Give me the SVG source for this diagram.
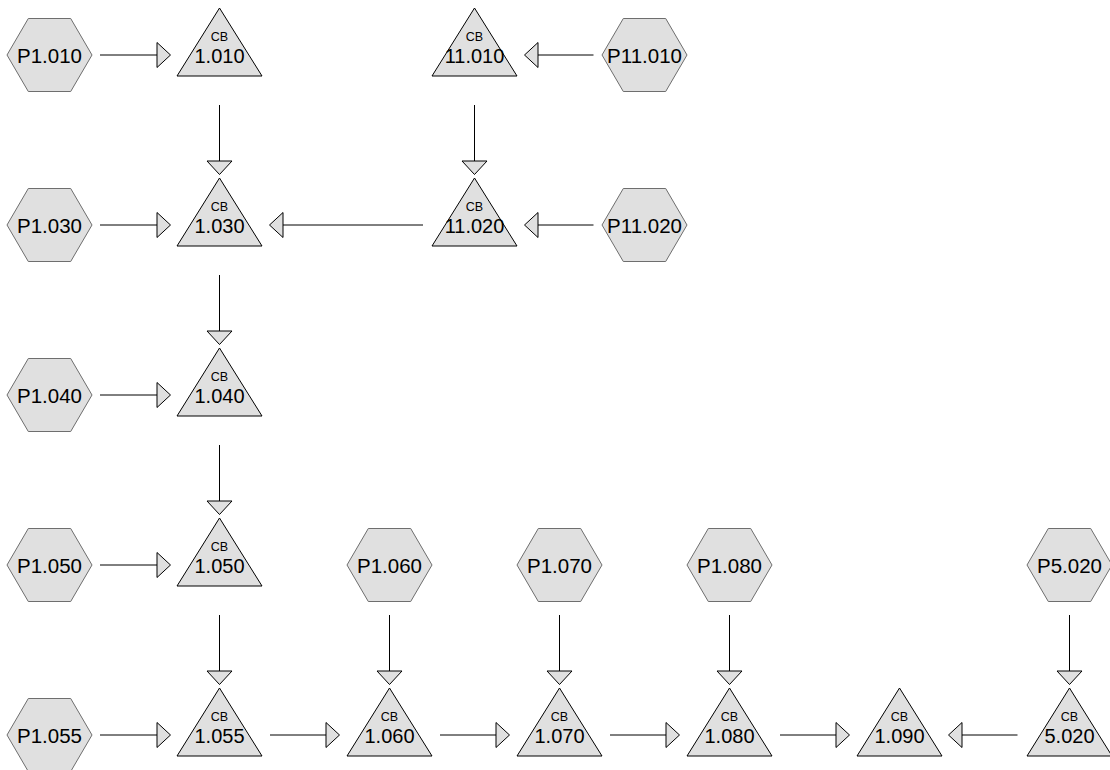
<svg xmlns="http://www.w3.org/2000/svg" width="1110" height="770" viewBox="0 0 1110 770">
<style>
.bg{fill:#ffffff}
.hex{fill:#e0e0e0;stroke:#6e6e6e;stroke-width:1}
.tri{fill:#e0e0e0;stroke:#000000;stroke-width:1}
.ht{font-family:"Liberation Sans",Arial,sans-serif;font-size:20.5px;fill:#000;text-anchor:middle}
.cb{font-family:"Liberation Sans",Arial,sans-serif;font-size:12.5px;fill:#000;text-anchor:middle}
.tn{font-family:"Liberation Sans",Arial,sans-serif;font-size:20px;fill:#000;text-anchor:middle}
.edge{stroke:#000;stroke-width:1;fill:none;marker-end:url(#ah)}
</style>
<defs>
<marker id="ah" markerUnits="userSpaceOnUse" viewBox="0 0 16 28" markerWidth="16" markerHeight="28" refX="1" refY="14" orient="auto">
<path d="M1,1.5 L14.5,14 L1,26.5 Z" fill="#e0e0e0" stroke="#000" stroke-width="1"/>
</marker>
<polygon id="hexShape" points="-42.5,0 -21.2,-36.5 21.2,-36.5 42.5,0 21.2,36.5 -21.2,36.5"/>
<polygon id="triShape" points="0,-47 42.5,21 -42.5,21"/>
</defs>
<rect class="bg" x="0" y="0" width="1110" height="770"/>

<g id="connectors">
<line class="edge" x1="100" y1="55" x2="157" y2="55"/>
<line class="edge" x1="100" y1="225" x2="157" y2="225"/>
<line class="edge" x1="100" y1="395" x2="157" y2="395"/>
<line class="edge" x1="100" y1="565" x2="157" y2="565"/>
<line class="edge" x1="100" y1="735" x2="157" y2="735"/>
<line class="edge" x1="593.5" y1="55" x2="538" y2="55"/>
<line class="edge" x1="593.5" y1="225" x2="538" y2="225"/>
<line class="edge" x1="423" y1="225" x2="283" y2="225"/>
<line class="edge" x1="219.5" y1="105" x2="219.5" y2="161"/>
<line class="edge" x1="474.5" y1="105" x2="474.5" y2="161"/>
<line class="edge" x1="219.5" y1="275" x2="219.5" y2="331"/>
<line class="edge" x1="219.5" y1="445" x2="219.5" y2="501"/>
<line class="edge" x1="219.5" y1="615" x2="219.5" y2="671"/>
<line class="edge" x1="389.5" y1="615" x2="389.5" y2="671"/>
<line class="edge" x1="559.5" y1="615" x2="559.5" y2="671"/>
<line class="edge" x1="729.5" y1="615" x2="729.5" y2="671"/>
<line class="edge" x1="1069.5" y1="615" x2="1069.5" y2="671"/>
<line class="edge" x1="270" y1="735" x2="326" y2="735"/>
<line class="edge" x1="440" y1="735" x2="496" y2="735"/>
<line class="edge" x1="610" y1="735" x2="666" y2="735"/>
<line class="edge" x1="780" y1="735" x2="836" y2="735"/>
<line class="edge" x1="1017.5" y1="735" x2="962" y2="735"/>
</g>

<g id="P1.010" transform="translate(49.5,55)"><use href="#hexShape" class="hex"/><text class="ht" y="7.5">P1.010</text></g>
<g id="P1.030" transform="translate(49.5,225)"><use href="#hexShape" class="hex"/><text class="ht" y="7.5">P1.030</text></g>
<g id="P1.040" transform="translate(49.5,395)"><use href="#hexShape" class="hex"/><text class="ht" y="7.5">P1.040</text></g>
<g id="P1.050" transform="translate(49.5,565)"><use href="#hexShape" class="hex"/><text class="ht" y="7.5">P1.050</text></g>
<g id="P1.055" transform="translate(49.5,735)"><use href="#hexShape" class="hex"/><text class="ht" y="7.5">P1.055</text></g>
<g id="P11.010" transform="translate(644.5,55)"><use href="#hexShape" class="hex"/><text class="ht" y="7.5">P11.010</text></g>
<g id="P11.020" transform="translate(644.5,225)"><use href="#hexShape" class="hex"/><text class="ht" y="7.5">P11.020</text></g>
<g id="P1.060" transform="translate(389.5,565)"><use href="#hexShape" class="hex"/><text class="ht" y="7.5">P1.060</text></g>
<g id="P1.070" transform="translate(559.5,565)"><use href="#hexShape" class="hex"/><text class="ht" y="7.5">P1.070</text></g>
<g id="P1.080" transform="translate(729.5,565)"><use href="#hexShape" class="hex"/><text class="ht" y="7.5">P1.080</text></g>
<g id="P5.020" transform="translate(1069.5,565)"><use href="#hexShape" class="hex"/><text class="ht" y="7.5">P5.020</text></g>

<g id="CB1.010" transform="translate(219.5,55)"><use href="#triShape" class="tri"/><text class="cb" y="-14.3">CB</text><text class="tn" y="7.7">1.010</text></g>
<g id="CB1.030" transform="translate(219.5,225)"><use href="#triShape" class="tri"/><text class="cb" y="-14.3">CB</text><text class="tn" y="7.7">1.030</text></g>
<g id="CB1.040" transform="translate(219.5,395)"><use href="#triShape" class="tri"/><text class="cb" y="-14.3">CB</text><text class="tn" y="7.7">1.040</text></g>
<g id="CB1.050" transform="translate(219.5,565)"><use href="#triShape" class="tri"/><text class="cb" y="-14.3">CB</text><text class="tn" y="7.7">1.050</text></g>
<g id="CB1.055" transform="translate(219.5,735)"><use href="#triShape" class="tri"/><text class="cb" y="-14.3">CB</text><text class="tn" y="7.7">1.055</text></g>
<g id="CB11.010" transform="translate(474.5,55)"><use href="#triShape" class="tri"/><text class="cb" y="-14.3">CB</text><text class="tn" y="7.7">11.010</text></g>
<g id="CB11.020" transform="translate(474.5,225)"><use href="#triShape" class="tri"/><text class="cb" y="-14.3">CB</text><text class="tn" y="7.7">11.020</text></g>
<g id="CB1.060" transform="translate(389.5,735)"><use href="#triShape" class="tri"/><text class="cb" y="-14.3">CB</text><text class="tn" y="7.7">1.060</text></g>
<g id="CB1.070" transform="translate(559.5,735)"><use href="#triShape" class="tri"/><text class="cb" y="-14.3">CB</text><text class="tn" y="7.7">1.070</text></g>
<g id="CB1.080" transform="translate(729.5,735)"><use href="#triShape" class="tri"/><text class="cb" y="-14.3">CB</text><text class="tn" y="7.7">1.080</text></g>
<g id="CB1.090" transform="translate(899.5,735)"><use href="#triShape" class="tri"/><text class="cb" y="-14.3">CB</text><text class="tn" y="7.7">1.090</text></g>
<g id="CB5.020" transform="translate(1069.5,735)"><use href="#triShape" class="tri"/><text class="cb" y="-14.3">CB</text><text class="tn" y="7.7">5.020</text></g>
</svg>
